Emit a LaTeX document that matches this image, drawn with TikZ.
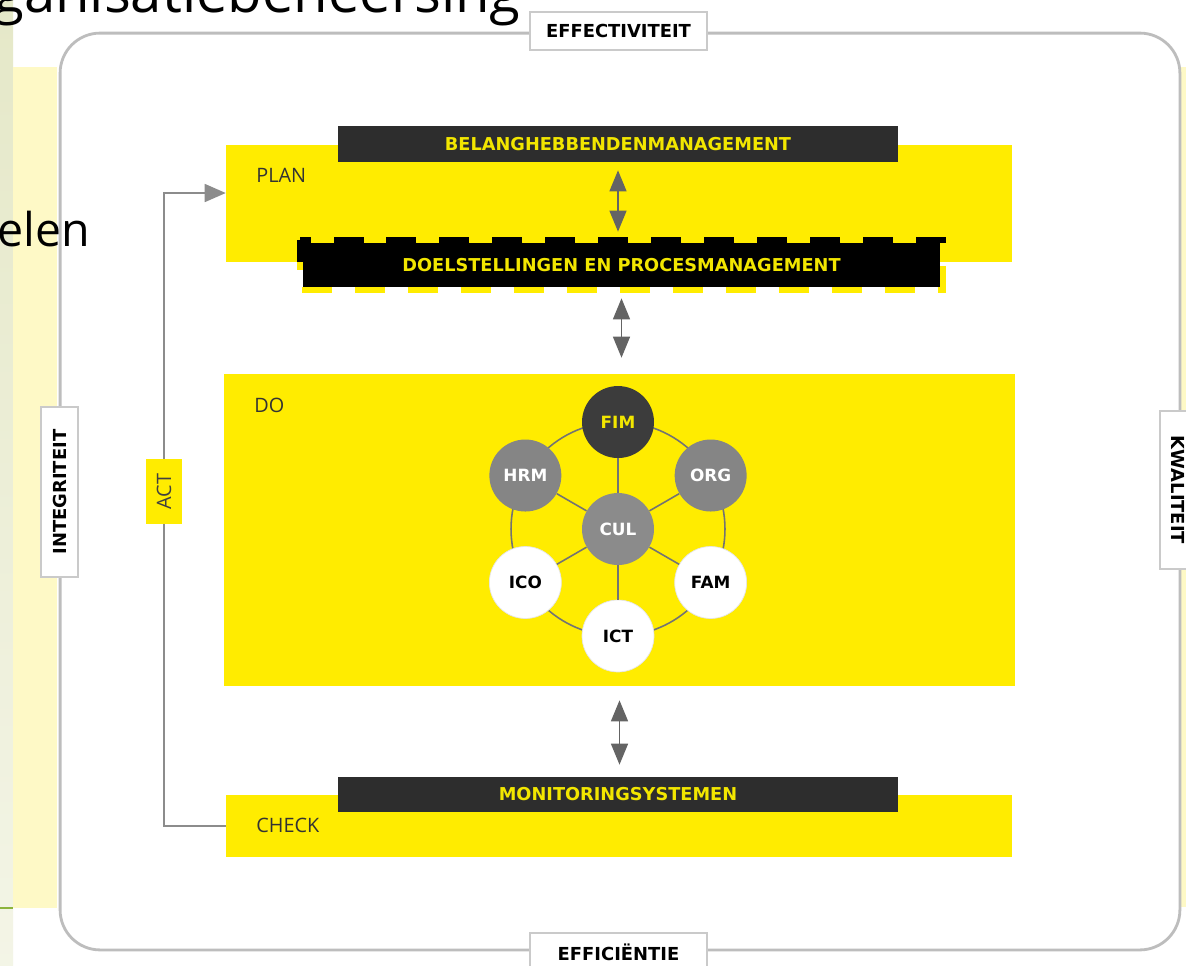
\documentclass[tikz,border=0pt]{standalone}
\usepackage{fontspec}
\setmainfont{Fira Sans}
\newfontfamily\slidefont{Open Sans}
\newfontfamily\thinfont{Open Sans}
\newfontfamily\labelfont{DejaVu Sans}
\usetikzlibrary{arrows.meta}
\definecolor{pdcayellow}{HTML}{FFEC00}
\definecolor{bardark}{HTML}{2D2D2D}
\definecolor{bartext}{HTML}{F2E600}
\definecolor{framegray}{HTML}{BDBDBD}
\definecolor{arrowgray}{HTML}{646464}
\definecolor{paleyellow}{HTML}{FEF9C6}
\definecolor{palegreen}{HTML}{E5E8C8}
\definecolor{slidegreen}{HTML}{8CB43C}
\definecolor{fimdark}{HTML}{3C3C3C}
\definecolor{midgray}{HTML}{858585}
\begin{document}
\begin{tikzpicture}[x=0.02cm, y=-0.02cm,
	phase/.style={fill=pdcayellow, minimum width=15.72cm, inner sep=0pt},
	bar/.style={fill=bardark, text=bartext, font=\labelfont\bfseries\fontsize{10.1}{12}\selectfont, minimum width=11.2cm, inner sep=0pt},
	tag/.style={fill=white, draw=framegray!80, line width=0.8pt, font=\labelfont\bfseries\fontsize{10.2}{12}\selectfont, inner sep=0pt},
	phasename/.style={anchor=west, text=black!80, font=\thinfont\fontsize{11.3}{13}\selectfont, inner sep=0pt},
	pillar/.style={circle, minimum size=1.44cm, inner sep=0pt, font=\labelfont\bfseries\fontsize{9.6}{11}\selectfont},
	ringline/.style={draw=black!55, line width=0.9pt},
	dblarrow/.style={{Triangle[length=0.42cm, width=0.34cm]}-{Triangle[length=0.42cm, width=0.34cm]}, draw=arrowgray, line width=0.8pt},
	]
	\useasboundingbox (0,0) rectangle (1186,965);
	\clip (0,0) rectangle (1186,965);
	% slide behind the diagram
	\fill[white] (0,0) rectangle (1186,965);
	\shade[top color=palegreen, bottom color=palegreen!45] (0,0) rectangle (13,965);
	\fill[paleyellow] (13,67) rectangle (57,908);
	\fill[paleyellow] (1181,67) rectangle (1186,907);
	\draw[slidegreen, line width=1.2pt] (0,908) -- (13,908);
	\node[anchor=base west, inner sep=0pt, font=\slidefont\fontsize{32}{34}\selectfont] (title) at (-7,12) {ganisatiebeheersing};
	\node[anchor=base west, inner sep=0pt, font=\slidefont\fontsize{26.5}{30}\selectfont] (bullet) at (-3,246) {elen};
	% outer frame with the four criteria
	\node[draw=framegray, line width=1.6pt, rounded corners=0.8cm, minimum width=22.4cm, minimum height=18.34cm, inner sep=0pt] (frame) at (620,491.5) {};
	\node[tag, minimum width=3.54cm, minimum height=0.76cm] (effect) at (618.5,31) {EFFECTIVITEIT};
	\node[tag, minimum width=3.54cm, minimum height=0.76cm] (effic) at (618.5,952) {EFFICIËNTIE};
	\node[tag, rotate=90, minimum width=3.4cm, minimum height=0.74cm] (integ) at (59.5,492) {INTEGRITEIT};
	\node[tag, rotate=-90, minimum width=3.16cm, minimum height=0.72cm] (kwal) at (1178,490) {KWALITEIT};
	% plan, do, check
	\node[phase, minimum height=2.34cm] (plan) at (619,203.5) {};
	\node[phase, minimum width=15.82cm, minimum height=6.24cm] (do) at (619.5,530) {};
	\node[phase, minimum height=1.24cm] (check) at (619,826) {};
	\node[phasename] (planname) at (256,175) {PLAN};
	\node[phasename] (doname) at (254,405) {DO};
	\node[phasename] (checkname) at (256,825) {CHECK};
	\node[bar, minimum height=0.72cm] (belang) at (618,144) {BELANGHEBBENDENMANAGEMENT};
	\node[bar, minimum height=0.7cm] (monitor) at (618,794.5) {MONITORINGSYSTEMEN};
	\node[fill=black, text=bartext, font=\labelfont\bfseries\fontsize{10.1}{12}\selectfont, minimum width=12.74cm, minimum height=0.88cm, inner sep=0pt] (doel) at (621.5,265) {DOELSTELLINGEN EN PROCESMANAGEMENT};
	\draw[black, line width=3.4pt, dash pattern=on 0.6cm off 0.46cm] ([xshift=-0.06cm, yshift=0.06cm]doel.north west) rectangle ([xshift=0.06cm, yshift=-0.06cm]doel.south east);
	\begin{scope}
		\clip (0,262) rectangle (1186,320);
		\draw[pdcayellow, line width=3.4pt, dash pattern=on 0.6cm off 0.46cm] ([xshift=-0.06cm, yshift=0.06cm]doel.north west) rectangle ([xshift=0.06cm, yshift=-0.06cm]doel.south east);
	\end{scope}
	\draw[dblarrow, shorten <=0.16cm, shorten >=0.22cm] (belang.south) -- (belang.south |- doel.north);
	\draw[dblarrow, shorten <=0.22cm, shorten >=0.32cm] (doel.south) -- (doel.south |- do.north);
	\draw[dblarrow, shorten <=0.28cm, shorten >=0.24cm] (do.south) -- (do.south |- monitor.north);
	% act loop
	\node[fill=pdcayellow, rotate=90, minimum width=1.3cm, minimum height=0.72cm, inner sep=0pt, text=black!75, font=\thinfont\fontsize{11.3}{13}\selectfont] (act) at (164,491.5) {ACT};
	\draw[black!45, line width=0.9pt] (check.west) -| (act.west);
	\draw[black!45, line width=0.9pt, -{Triangle[length=0.42cm, width=0.36cm]}] (act.east) |- ([yshift=0.21cm]plan.west);
	% the seven pillars
	\coordinate (hub) at (618,529);
	\draw[ringline] (hub) circle[radius=2.14cm];
	\node[pillar, fill=fimdark, text=bartext] (fim) at ([shift={(90:2.14cm)}]hub) {FIM};
	\node[pillar, fill=midgray, text=white] (hrm) at ([shift={(150:2.14cm)}]hub) {HRM};
	\node[pillar, fill=midgray, text=white] (org) at ([shift={(30:2.14cm)}]hub) {ORG};
	\node[pillar, fill=white, draw=black!10] (ico) at ([shift={(210:2.14cm)}]hub) {ICO};
	\node[pillar, fill=white, draw=black!10] (fam) at ([shift={(-30:2.14cm)}]hub) {FAM};
	\node[pillar, fill=white, draw=black!10] (ict) at ([shift={(-90:2.14cm)}]hub) {ICT};
	\node[pillar, fill=midgray!95, text=white] (cul) at (hub) {CUL};
	\foreach \p in {fim,hrm,org,ico,fam,ict}
		\draw[ringline] (cul) -- (\p);
\end{tikzpicture}
\end{document}
